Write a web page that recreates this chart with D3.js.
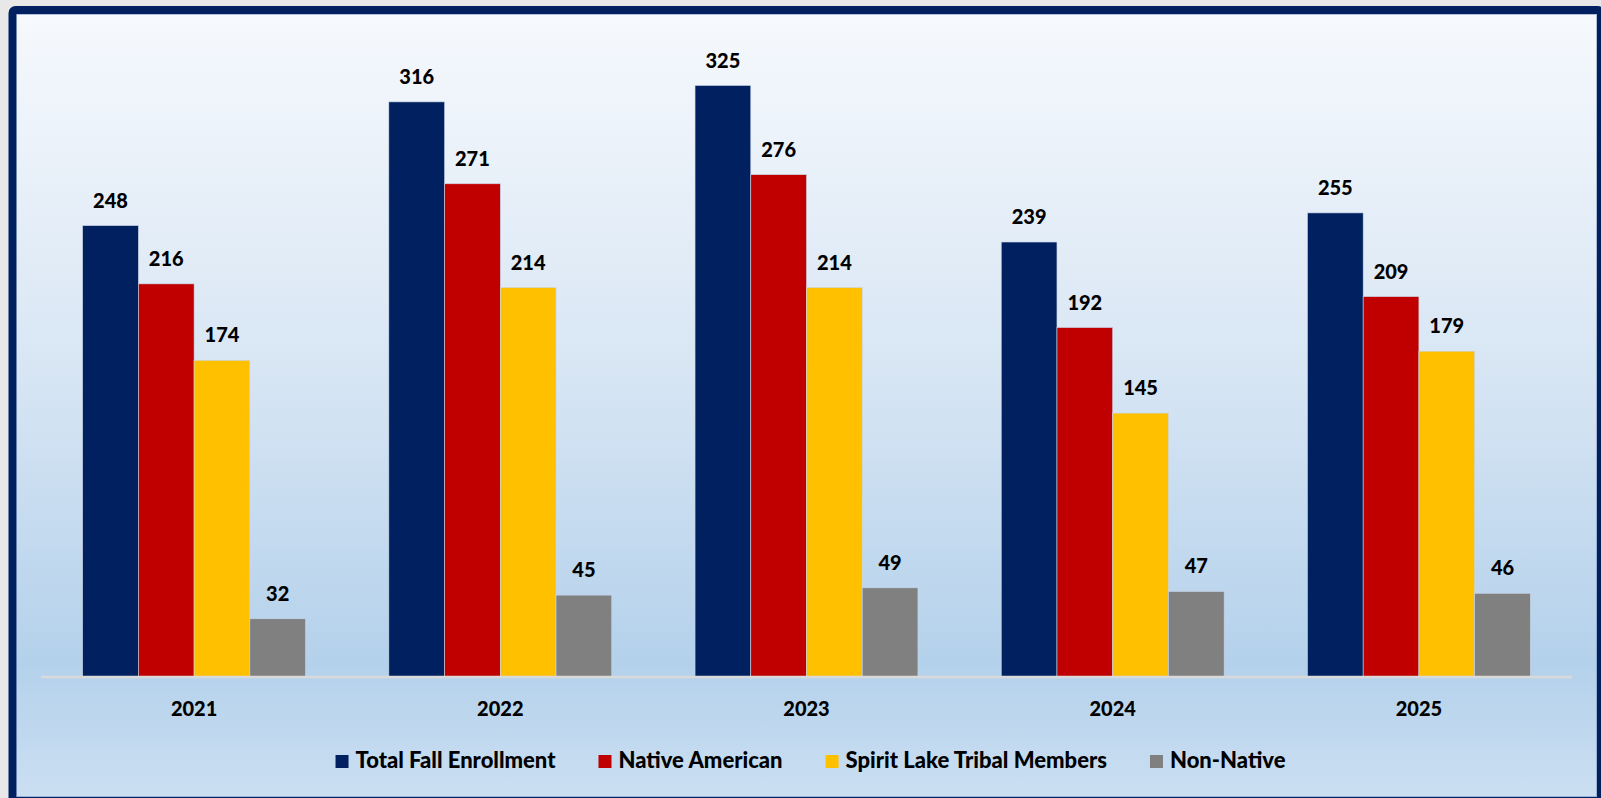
<!DOCTYPE html>
<html>
<head>
<meta charset="utf-8">
<script src="https://cdn.jsdelivr.net/npm/d3@7"></script>
<style>
  html, body { margin: 0; padding: 0; background: #e8e8e8; }
  svg { display: block; }
  text { font-family: Lato, "Open Sans", sans-serif; font-weight: 900; fill: #000; }
</style>
</head>
<body>
<script>
// chart values
const years = ["2021", "2022", "2023", "2024", "2025"];
const seriesNames = ["Total Fall Enrollment", "Native American", "Spirit Lake Tribal Members", "Non-Native"];
const totalFall = [248, 316, 325, 239, 255];
const nativeAmerican = [216, 271, 276, 192, 209];
const spiritLake = [174, 214, 214, 145, 179];
const nonNative = [32, 45, 49, 47, 46];
const colors = ["#002060", "#C00000", "#FFC000", "#808080"];

const width = 1601, height = 798;
const series = [totalFall, nativeAmerican, spiritLake, nonNative];

// flatten into rows for the bars
const rows = [];
years.forEach((y, i) => {
  series.forEach((s, k) => rows.push({year: y, key: seriesNames[k], value: s[i], k: k}));
});

const svg = d3.select("body").append("svg")
  .attr("width", width)
  .attr("height", height);

const defs = svg.append("defs");
const grad = defs.append("linearGradient")
  .attr("id", "bg").attr("x1", 0).attr("y1", 0).attr("x2", 0).attr("y2", 1);
grad.append("stop").attr("offset", "0%").attr("stop-color", "#f6f9fd");
grad.append("stop").attr("offset", "45%").attr("stop-color", "#d8e6f4");
grad.append("stop").attr("offset", "83%").attr("stop-color", "#b4d1eb");
grad.append("stop").attr("offset", "100%").attr("stop-color", "#cbdff2");

// frame
svg.append("rect")
  .attr("x", 16).attr("y", 14)
  .attr("width", 1581).attr("height", 783)
  .attr("fill", "url(#bg)");
svg.append("rect")
  .attr("x", 12.5).attr("y", 10)
  .attr("width", 1588.5).attr("height", 791)
  .attr("rx", 3)
  .attr("fill", "none")
  .attr("stroke", "#002060")
  .attr("stroke-width", 8);
svg.append("rect")
  .attr("x", 16.5).attr("y", 14.5)
  .attr("width", 1580).attr("height", 782)
  .attr("fill", "none")
  .attr("stroke", "#6f87b4")
  .attr("stroke-width", 1)
  .attr("stroke-opacity", 0.5);

// scales
const x0 = d3.scaleBand()
  .domain(years)
  .range([41, 1572])
  .paddingInner(0.272)
  .paddingOuter(0.136);

const x1 = d3.scaleBand()
  .domain(seriesNames)
  .range([0, x0.bandwidth()]);

const y = d3.scaleLinear()
  .domain([0, 350])
  .range([677, 40]);

const color = d3.scaleOrdinal().domain(seriesNames).range(colors);

// bars
const bars = svg.append("g").attr("class", "bars");
bars.selectAll("rect")
  .data(rows)
  .join("rect")
    .attr("x", d => x0(d.year) + x1(d.key))
    .attr("y", d => y(d.value))
    .attr("width", x1.bandwidth())
    .attr("height", d => y(0) - y(d.value))
    .attr("fill", d => color(d.key))
    .attr("stroke", "#c9d6e8")
    .attr("stroke-width", 0.6);

// value labels
svg.append("g").attr("class", "labels")
  .selectAll("text")
  .data(rows)
  .join("text")
    .attr("x", d => x0(d.year) + x1(d.key) + x1.bandwidth() / 2)
    .attr("y", d => y(d.value) - 18)
    .attr("text-anchor", "middle")
    .style("font-size", "20px")
    .text(d => d.value);

// x axis
const xAxis = svg.append("g")
  .attr("transform", `translate(0,${y(0)})`)
  .call(d3.axisBottom(x0).tickSize(0).tickPadding(0));
xAxis.select(".domain")
  .attr("d", `M41,0H1572`)
  .attr("stroke", "#d9d9d9")
  .attr("stroke-width", 2.5);
xAxis.selectAll(".tick text")
  .attr("dy", null)
  .attr("y", 39)
  .style("font-size", "20px")
  .style("font-family", "Lato, 'Open Sans', sans-serif")
  .style("font-weight", "900")
  .attr("fill", "#000");

// legend
const legend = svg.append("g").attr("class", "legend");
const items = legend.selectAll("g")
  .data(seriesNames)
  .join("g");
items.append("rect")
  .attr("width", 13).attr("height", 13)
  .attr("y", 755)
  .attr("fill", d => color(d));
items.append("text")
  .attr("x", 20)
  .attr("y", 768)
  .style("font-size", "22px")
  .text(d => d);

let cx = 0;
const offs = [];
items.each(function () {
  offs.push(cx);
  const w = 20 + d3.select(this).select("text").node().getComputedTextLength();
  cx += w + 43;
});
const total = cx - 43;
const startX = 810.5 - total / 2;
items.attr("transform", (d, i) => `translate(${startX + offs[i]},0)`);
</script>
</body>
</html>
